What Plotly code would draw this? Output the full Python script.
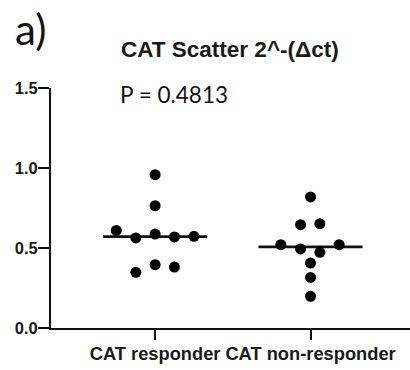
import numpy as np
import plotly.graph_objects as go

categories = ["CAT responder", "CAT non-responder"]
cat_pos = [1, 2]

responder_values = [0.958, 0.764, 0.610, 0.563, 0.587, 0.569, 0.573, 0.348, 0.396, 0.381]
responder_offsets = [0.0, 0.0, -0.250, -0.124, 0.0, 0.124, 0.250, -0.124, 0.0, 0.124]

nonresponder_values = [0.819, 0.646, 0.652, 0.521, 0.494, 0.473, 0.521, 0.406, 0.316, 0.198]
nonresponder_offsets = [0.0, -0.064, 0.060, -0.191, -0.064, 0.060, 0.184, 0.0, 0.0, 0.0]

y_ticks = [0.0, 0.5, 1.0, 1.5]
y_ticktext = ["0.0", "0.5", "1.0", "1.5"]

title_text = "CAT Scatter 2^-(Δct)"
p_text = "P = 0.4813"
panel_text = "a)"

groups = [
    (responder_values, responder_offsets),
    (nonresponder_values, nonresponder_offsets),
]

fig = go.Figure()
half = 0.335
for pos, (vals, offs) in zip(cat_pos, groups):
    med = float(np.median(vals))
    fig.add_trace(go.Scatter(
        x=[pos - half, pos + half], y=[med, med], mode="lines",
        line=dict(color="#111", width=2.7), showlegend=False, hoverinfo="skip"))
    fig.add_trace(go.Scatter(
        x=[pos + o for o in offs], y=vals, mode="markers",
        marker=dict(color="#000", size=11), showlegend=False))

bold = dict(family="Liberation Sans, Arial, sans-serif", weight="bold", color="#1a1a1a")

fig.update_layout(
    width=410, height=370,
    margin=dict(l=51, r=0, t=88, b=42, pad=0),
    plot_bgcolor="white", paper_bgcolor="white",
    xaxis=dict(range=[0.33, 2.64], tickvals=cat_pos, ticktext=categories,
               showgrid=False, zeroline=False, showline=True, linecolor="#111",
               linewidth=2, ticks="outside", ticklen=10, tickwidth=2, tickcolor="#111",
               ticklabelstandoff=-2,
               tickfont=dict(size=18.3, **bold)),
    yaxis=dict(range=[0, 1.5], tickvals=y_ticks, ticktext=y_ticktext,
               showgrid=False, zeroline=False, showline=True, linecolor="#111",
               linewidth=2, ticks="outside", ticklen=11, tickwidth=2, tickcolor="#111",
               ticklabelstandoff=-3,
               tickfont=dict(size=16.5, **bold)),
    annotations=[
        dict(text=title_text, xref="paper", yref="paper", x=0.4986, y=1.162,
             xanchor="center", yanchor="middle", showarrow=False,
             font=dict(size=22.5, **bold)),
        dict(text=p_text, xref="paper", yref="paper", x=0.1875, y=0.975,
             xanchor="left", yanchor="middle", showarrow=False,
             font=dict(family="Lato, Open Sans, sans-serif", size=22.5, color="#111")),
        dict(text=panel_text, xref="paper", yref="paper", x=-0.1058, y=1.245,
             xanchor="left", yanchor="middle", showarrow=False,
             font=dict(family="Lato, Open Sans, sans-serif", size=42, color="#111")),
    ],
)

fig.write_html("out.html")
